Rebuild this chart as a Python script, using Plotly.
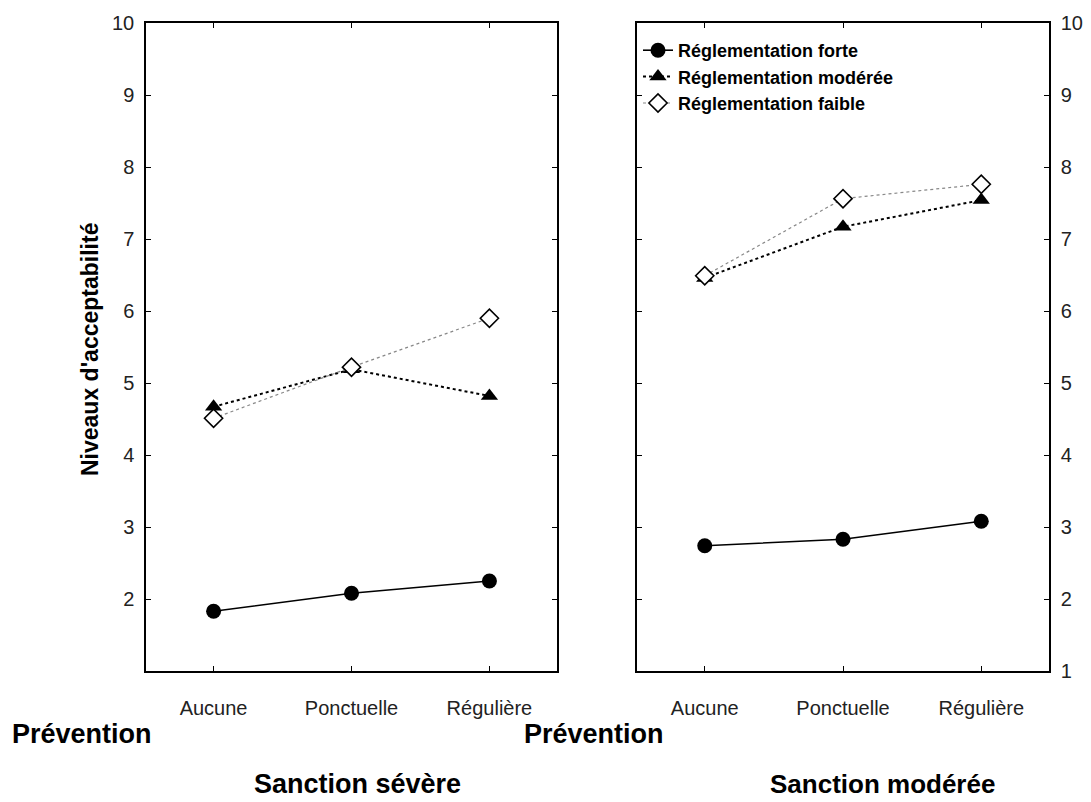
import plotly.graph_objects as go

categories = ["Aucune", "Ponctuelle", "Régulière"]
series_names = ["Réglementation forte", "Réglementation modérée", "Réglementation faible"]

# Sanction sévère (left panel)
severe_forte = [1.83, 2.08, 2.25]
severe_moderee = [4.67, 5.19, 4.82]
severe_faible = [4.51, 5.22, 5.90]

# Sanction modérée (right panel)
moderee_forte = [2.74, 2.83, 3.08]
moderee_moderee = [6.46, 7.17, 7.54]
moderee_faible = [6.49, 7.56, 7.76]

y_ticks = [1, 2, 3, 4, 5, 6, 7, 8, 9, 10]

# page body has an 8px margin; the figure fills the rest of the window
OFF = 8
W, H = 1091 - OFF, 802 - OFF
FONT = "Liberation Sans, Arial, sans-serif"

styles = [
    dict(line=dict(color="black", width=1.6, dash="solid"),
         marker=dict(symbol="circle", size=15, color="black")),
    dict(line=dict(color="black", width=2, dash="3px,3px"),
         marker=dict(symbol="triangle-up", size=15, color="black")),
    dict(line=dict(color="#888888", width=1.2, dash="dot"),
         marker=dict(symbol="diamond", size=14, color="white",
                     line=dict(color="black", width=1.6))),
]

fig = go.Figure()
xs = list(range(len(categories)))
panels = [
    ("x", "y", [severe_forte, severe_moderee, severe_faible], False),
    ("x2", "y2", [moderee_forte, moderee_moderee, moderee_faible], True),
]
for xa, ya, data, show in panels:
    for name, vals, st in zip(series_names, data, styles):
        fig.add_trace(go.Scatter(
            x=xs, y=vals, mode="lines+markers",
            name="<b>" + name + "</b>",
            xaxis=xa, yaxis=ya, showlegend=show,
            line=st["line"], marker=st["marker"]))

def px_x(p):
    return (p - OFF) / W

def px_y(p):
    return 1 - (p - OFF) / H

axis_common = dict(
    showline=True, linecolor="black", linewidth=1.5, mirror="ticks",
    ticks="inside", ticklen=5, tickcolor="black", tickwidth=1,
    showgrid=False, zeroline=False, automargin=False,
)

xaxis_common = dict(
    axis_common, range=[-0.49, 2.49], tickvals=xs, ticktext=categories,
    tickfont=dict(family=FONT, size=20, color="#222"), ticklabelstandoff=18,
)

yfont = dict(family=FONT, size=20, color="#222")

fig.update_layout(
    width=W, height=H,
    margin=dict(l=0, r=0, t=0, b=0, autoexpand=False),
    paper_bgcolor="white", plot_bgcolor="white",
    font=dict(family=FONT, color="black"),
    xaxis=dict(xaxis_common, domain=[px_x(146), px_x(557)], anchor="y"),
    xaxis2=dict(xaxis_common, domain=[px_x(637), px_x(1049)], anchor="y2"),
    yaxis=dict(axis_common, domain=[px_y(671), px_y(23)], range=[1, 10],
               tickvals=y_ticks[1:], anchor="x",
               tickfont=yfont, ticklabelstandoff=6),
    yaxis2=dict(axis_common, domain=[px_y(671), px_y(23)], range=[1, 10],
                tickvals=y_ticks, anchor="x2", side="right",
                tickfont=yfont, ticklabelstandoff=6),
    legend=dict(x=px_x(638), y=px_y(32), xanchor="left", yanchor="top",
                bgcolor="rgba(0,0,0,0)", tracegroupgap=0,
                font=dict(family=FONT, size=18, color="black"),
                itemwidth=30),
    showlegend=True,
)

annotations = [
    dict(text="<b>Niveaux d'acceptabilité</b>", x=px_x(90), y=px_y(350), textangle=-90,
         xanchor="center", yanchor="middle", font=dict(size=23)),
    dict(text="<b>Prévention</b>", x=px_x(10), y=px_y(734), xanchor="left",
         yanchor="middle", font=dict(size=27)),
    dict(text="<b>Prévention</b>", x=px_x(522), y=px_y(734), xanchor="left",
         yanchor="middle", font=dict(size=27)),
    dict(text="<b>Sanction sévère</b>", x=px_x(357), y=px_y(784), xanchor="center",
         yanchor="middle", font=dict(size=27)),
    dict(text="<b>Sanction modérée</b>", x=px_x(882), y=px_y(784), xanchor="center",
         yanchor="middle", font=dict(size=26)),
]
for a in annotations:
    a.update(xref="paper", yref="paper", showarrow=False)
    a["font"] = dict(family=FONT, color="black", **a["font"])
fig.update_layout(annotations=annotations)

fig.write_html("out.html")
